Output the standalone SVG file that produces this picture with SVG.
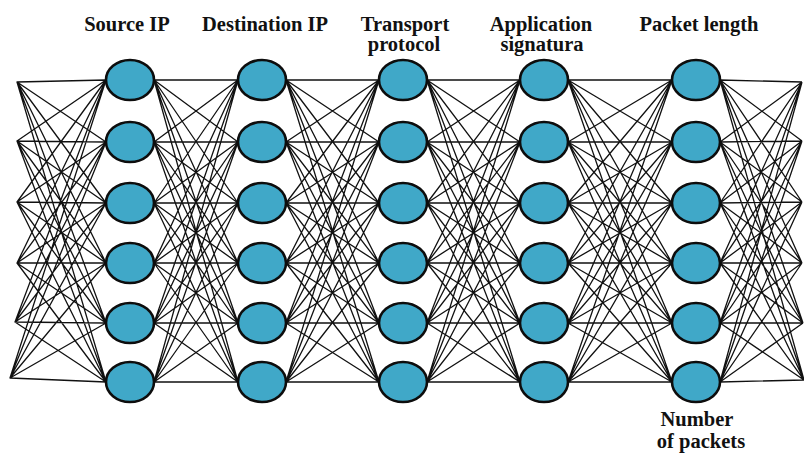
<svg xmlns="http://www.w3.org/2000/svg" width="804" height="454" viewBox="0 0 804 454">
  <style>
    .edges path { fill: none; stroke: #111; stroke-width: 1.3; stroke-linejoin: round; }
    .node ellipse { fill: #40a8c8; stroke: #0d0d0d; stroke-width: 2.6; }
    .lbl { font-weight: bold; font-size: 20.5px; fill: #111; text-anchor: middle; }
    .lbl-b { font-size: 20.5px; }
  </style>
  <rect width="804" height="454" fill="#ffffff"/>

  <!-- connectors: fully connected between neighbouring columns -->
  <g id="connectors" class="edges">
    <!-- input fan to column 1 -->
    <path d="M106 80L17 82 106 142M106 203L17 82 106 263M106 323L17 82 106 382
             M106 80L17 141 106 142M106 203L17 141 106 263M106 323L17 141 106 382
             M106 80L17 202 106 142M106 203L17 202 106 263M106 323L17 202 106 382
             M106 80L17 263 106 142M106 203L17 263 106 263M106 323L17 263 106 382
             M106 80L15 322 106 142M106 203L15 322 106 263M106 323L15 322 106 382
             M106 80L10 378 106 142M106 203L10 378 106 263M106 323L10 378 106 382"/>
    <!-- column 1 to column 2 -->
    <path d="M238 80L154 80 238 142M238 203L154 80 238 263M238 323L154 80 238 382
             M238 80L154 142 238 142M238 203L154 142 238 263M238 323L154 142 238 382
             M238 80L154 203 238 142M238 203L154 203 238 263M238 323L154 203 238 382
             M238 80L154 263 238 142M238 203L154 263 238 263M238 323L154 263 238 382
             M238 80L154 323 238 142M238 203L154 323 238 263M238 323L154 323 238 382
             M238 80L154 382 238 142M238 203L154 382 238 263M238 323L154 382 238 382"/>
    <!-- column 2 to column 3 -->
    <path d="M379 80L286 80 379 142M379 203L286 80 379 263M379 323L286 80 379 382
             M379 80L286 142 379 142M379 203L286 142 379 263M379 323L286 142 379 382
             M379 80L286 203 379 142M379 203L286 203 379 263M379 323L286 203 379 382
             M379 80L286 263 379 142M379 203L286 263 379 263M379 323L286 263 379 382
             M379 80L286 323 379 142M379 203L286 323 379 263M379 323L286 323 379 382
             M379 80L286 382 379 142M379 203L286 382 379 263M379 323L286 382 379 382"/>
    <!-- column 3 to column 4 -->
    <path d="M520 80L427 80 520 142M520 203L427 80 520 263M520 323L427 80 520 382
             M520 80L427 142 520 142M520 203L427 142 520 263M520 323L427 142 520 382
             M520 80L427 203 520 142M520 203L427 203 520 263M520 323L427 203 520 382
             M520 80L427 263 520 142M520 203L427 263 520 263M520 323L427 263 520 382
             M520 80L427 323 520 142M520 203L427 323 520 263M520 323L427 323 520 382
             M520 80L427 382 520 142M520 203L427 382 520 263M520 323L427 382 520 382"/>
    <!-- column 4 to column 5 -->
    <path d="M672 80L568 80 672 142M672 203L568 80 672 263M672 323L568 80 672 382
             M672 80L568 142 672 142M672 203L568 142 672 263M672 323L568 142 672 382
             M672 80L568 203 672 142M672 203L568 203 672 263M672 323L568 203 672 382
             M672 80L568 263 672 142M672 203L568 263 672 263M672 323L568 263 672 382
             M672 80L568 323 672 142M672 203L568 323 672 263M672 323L568 323 672 382
             M672 80L568 382 672 142M672 203L568 382 672 263M672 323L568 382 672 382"/>
    <!-- column 5 fan to outputs -->
    <path d="M802 82L720 80 802 141M802 202L720 80 802 263M803 323L720 80 804 380
             M802 82L720 142 802 141M802 202L720 142 802 263M803 323L720 142 804 380
             M802 82L720 203 802 141M802 202L720 203 802 263M803 323L720 203 804 380
             M802 82L720 263 802 141M802 202L720 263 802 263M803 323L720 263 804 380
             M802 82L720 323 802 141M802 202L720 323 802 263M803 323L720 323 804 380
             M802 82L720 382 802 141M802 202L720 382 802 263M803 323L720 382 804 380"/>
  </g>

  <!-- column 1: Source IP -->
  <g id="col-source-ip" class="node">
    <ellipse cx="130" cy="80" rx="24" ry="20"/>
    <ellipse cx="130" cy="142" rx="24" ry="20"/>
    <ellipse cx="130" cy="203" rx="24" ry="20"/>
    <ellipse cx="130" cy="263" rx="24" ry="20"/>
    <ellipse cx="130" cy="323" rx="24" ry="20"/>
    <ellipse cx="130" cy="382" rx="24" ry="20"/>
  </g>
  <!-- column 2: Destination IP -->
  <g id="col-destination-ip" class="node">
    <ellipse cx="262" cy="80" rx="24" ry="20"/>
    <ellipse cx="262" cy="142" rx="24" ry="20"/>
    <ellipse cx="262" cy="203" rx="24" ry="20"/>
    <ellipse cx="262" cy="263" rx="24" ry="20"/>
    <ellipse cx="262" cy="323" rx="24" ry="20"/>
    <ellipse cx="262" cy="382" rx="24" ry="20"/>
  </g>
  <!-- column 3: Transport protocol -->
  <g id="col-transport-protocol" class="node">
    <ellipse cx="403" cy="80" rx="24" ry="20"/>
    <ellipse cx="403" cy="142" rx="24" ry="20"/>
    <ellipse cx="403" cy="203" rx="24" ry="20"/>
    <ellipse cx="403" cy="263" rx="24" ry="20"/>
    <ellipse cx="403" cy="323" rx="24" ry="20"/>
    <ellipse cx="403" cy="382" rx="24" ry="20"/>
  </g>
  <!-- column 4: Application signatura -->
  <g id="col-application-signatura" class="node">
    <ellipse cx="544" cy="80" rx="24" ry="20"/>
    <ellipse cx="544" cy="142" rx="24" ry="20"/>
    <ellipse cx="544" cy="203" rx="24" ry="20"/>
    <ellipse cx="544" cy="263" rx="24" ry="20"/>
    <ellipse cx="544" cy="323" rx="24" ry="20"/>
    <ellipse cx="544" cy="382" rx="24" ry="20"/>
  </g>
  <!-- column 5: Packet length / Number of packets -->
  <g id="col-packet-length" class="node">
    <ellipse cx="696" cy="80" rx="24" ry="20"/>
    <ellipse cx="696" cy="142" rx="24" ry="20"/>
    <ellipse cx="696" cy="203" rx="24" ry="20"/>
    <ellipse cx="696" cy="263" rx="24" ry="20"/>
    <ellipse cx="696" cy="323" rx="24" ry="20"/>
    <ellipse cx="696" cy="382" rx="24" ry="20"/>
  </g>

  <!-- column headings -->
  <g id="labels" font-family="'Liberation Serif', 'Times New Roman', 'DejaVu Serif', serif">
    <text class="lbl" x="127" y="31">Source IP</text>
    <text class="lbl" x="265" y="31">Destination IP</text>
    <text class="lbl" x="405" y="31">Transport</text>
    <text class="lbl" x="404" y="51">protocol</text>
    <text class="lbl" x="541" y="31">Application</text>
    <text class="lbl" x="542" y="51">signatura</text>
    <text class="lbl" x="699" y="31">Packet length</text>
    <text class="lbl lbl-b" x="697" y="426">Number</text>
    <text class="lbl lbl-b" x="701" y="448">of packets</text>
  </g>
</svg>
